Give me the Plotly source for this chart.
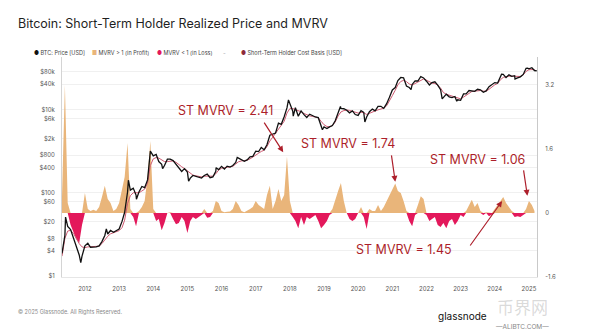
import pandas as pd
import plotly.graph_objects as go

# ---------------- data (monthly, first of month) ----------------
months = pd.date_range("2011-05-01", "2025-03-01", freq="MS")

btc_price = [
    3.5, 9.5, 15.5, 13, 8.2, 5.1, 3.2, 3.0,
    5.3, 6.1, 4.9, 4.9, 5.0, 5.3, 6.7, 9.4, 10.2, 12.4, 11.2, 12.5,
    13.5, 20.5, 34, 104, 116, 129, 88, 104, 141, 132, 203, 1000,
    770, 830, 560, 480, 450, 640, 640, 590, 480, 385, 325, 380,
    315, 225, 260, 245, 235, 225, 260, 280, 230, 240, 325, 360,
    430, 370, 435, 415, 450, 535, 675, 605, 570, 615, 730, 750,
    995, 970, 1220, 1080, 1420, 2400, 2500, 2720, 4700, 4400, 6700, 10900,
    13500, 9100, 11000, 6900, 9200, 7500, 6400, 7700, 7000, 6600, 6350, 4200,
    3800, 3480, 3820, 4100, 5350, 8550, 10600, 10400, 9600, 8300, 9200, 7550,
    7200, 9350, 8550, 6600, 8850, 10200, 9230, 11800, 11900, 10600, 13800, 19700,
    29400, 33500, 49600, 58700, 57800, 36700, 33600, 39900, 48800, 48200, 61300, 57200,
    47700, 38700, 44400, 46300, 38500, 29800, 19300, 23300, 20100, 19300, 20500, 17100,
    16600, 23700, 23600, 28500, 28100, 27200, 30600, 29700, 25900, 27900, 35400, 38700,
    44200, 43100, 62400, 69700, 58300, 67800, 62700, 64600, 57300, 60800, 69500, 97300,
    94400, 100600, 86000,
]

# intra-month highs / lows of the price line
price_extra_dates = ["2011-06-08", "2011-11-18", "2012-08-17", "2013-04-10", "2013-07-05",
                     "2013-11-30", "2014-04-11", "2015-01-14", "2015-11-04", "2016-06-17",
                     "2017-12-17", "2018-02-06", "2018-12-15", "2019-06-26", "2020-03-13",
                     "2021-04-14", "2021-07-20", "2021-11-10", "2022-06-18", "2022-11-21",
                     "2024-03-14", "2024-08-05", "2024-12-17", "2025-03-25"]
price_extra_values = [26, 2.1, 13.5, 200, 70, 950, 380, 190, 400, 700,
                      17000, 6900, 3250, 11800, 5000, 58000, 30000, 60000, 18000, 15800,
                      70000, 54000, 98000, 85000]

sth_cost_basis = [
    3, 8, 12, 12.5, 10.5, 8, 6, 5,
    4.8, 5, 5, 5, 5, 5.2, 6, 7.5, 9, 10.3, 10.8, 11.3,
    12.3, 14.5, 22, 55, 85, 100, 100, 100, 110, 122, 170, 450,
    650, 700, 680, 620, 560, 560, 580, 580, 540, 470, 420, 380,
    330, 285, 265, 255, 245, 240, 250, 255, 250, 250, 285, 350,
    385, 400, 410, 420, 430, 490, 555, 580, 590, 605, 650, 710,
    810, 890, 980, 1050, 1280, 1750, 2150, 2700, 3400, 4000, 5200, 8200,
    10500, 10500, 10000, 9300, 8800, 8000, 7400, 7000, 6800, 6600, 6300, 5200,
    4300, 3900, 3800, 4100, 5000, 7000, 8700, 9400, 9700, 9500, 9000, 8400,
    8200, 8600, 8300, 7600, 8000, 8700, 9200, 9800, 10300, 10700, 12300, 15800,
    21500, 29000, 39000, 47000, 50000, 46500, 41000, 38500, 42000, 46000, 51500, 54000,
    50500, 45500, 43000, 42000, 38500, 32500, 25500, 23200, 22000, 21000, 20000, 18500,
    18000, 19800, 22000, 25000, 27000, 27500, 28500, 28500, 27500, 27500, 30500, 35000,
    39000, 42000, 51500, 59000, 62000, 63000, 63000, 62000, 61000, 62000, 68000, 82000,
    90000, 92000, 91000,
]

sth_mvrv_minus_1 = [
    0.4, 3.2, 0.25, -0.3, -0.5, -0.65, -0.75, -0.3,
    0.5, 0.1, 0.05, 0.08, 0.05, 0.15, 0.4, 0.68, 0.35, 0.25, 0.05, 0.1,
    0.25, 0.6, 0.9, 1.75, 0.1, -0.1, -0.33, 0.05, 0.15, 0.3, 0.9, 1.8,
    0.1, -0.2, -0.15, -0.43, -0.25, 0.0, 0.02, -0.15, -0.28, -0.25, -0.1, -0.2,
    -0.5, -0.2, -0.1, -0.15, -0.1, -0.05, 0.1, -0.12, -0.1, 0.05, 0.3, 0.25,
    0.05, 0.02, 0.03, 0.04, 0.1, 0.3, 0.2, 0.05, 0.02, 0.05, 0.1, 0.15,
    0.3, 0.2, 0.15, 0.1, 0.45, 0.68, 0.1, 0.3, 0.6, 0.3, 0.45, 1.41,
    0.3, -0.1, -0.2, -0.38, -0.1, -0.3, -0.1, -0.15, -0.1, -0.05, -0.2, -0.38,
    -0.3, -0.2, -0.05, 0.1, 0.35, 0.55, 0.75, 0.3, 0.0, -0.15, -0.2, -0.15,
    0.0, 0.15, -0.1, -0.4, 0.1, 0.05, 0.05, 0.2, 0.05, 0.15, 0.3, 0.45,
    0.6, 0.74, 0.55, 0.5, 0.3, 0.05, -0.2, -0.33, -0.05, 0.2, 0.42, 0.35,
    -0.05, -0.2, -0.15, -0.1, -0.3, -0.35, -0.25, -0.38, -0.2, -0.15, -0.3, -0.2,
    -0.05, -0.1, 0.05, 0.2, 0.33, 0.15, 0.25, 0.05, -0.05, 0.02, -0.08, -0.05,
    0.1, 0.2, 0.3, 0.4, 0.25, 0.15, 0.05, -0.1, -0.08, -0.1, -0.05, 0.1,
    0.3, 0.2, 0.05,
]

year_ticks = [str(y) for y in range(2012, 2026)]
price_tickvals = [1, 4, 8, 20, 60, 100, 400, 800, 2000, 6000, 10000, 40000, 80000]
price_ticktext = ["$1", "$4", "$8", "$20", "$60", "$100", "$400", "$800",
                  "$2k", "$6k", "$10k", "$40k", "$80k"]
mvrv_tickvals = [-1.6, 0, 1.6, 3.2]
mvrv_ticktext = ["-1.6", "0", "1.6", "3.2"]

# ---------------- build ----------------
price_df = pd.concat([
    pd.DataFrame({"d": months, "v": btc_price}),
    pd.DataFrame({"d": pd.to_datetime(price_extra_dates), "v": price_extra_values}),
]).sort_values("d")

mvrv_pos = [v if v > 0 else 0 for v in sth_mvrv_minus_1]
mvrv_neg = [v if v < 0 else 0 for v in sth_mvrv_minus_1]

TAN = "#e9b57a"
CRIMSON = "#e3185b"
RED_TXT = "#ad1f2b"

fig = go.Figure()
fig.add_trace(go.Scatter(x=months, y=mvrv_pos, yaxis="y", mode="lines",
                         line=dict(width=0, color=TAN), fill="tozeroy",
                         fillcolor=TAN, name="MVRV > 1 (in Profit)"))
fig.add_trace(go.Scatter(x=months, y=mvrv_neg, yaxis="y", mode="lines",
                         line=dict(width=0, color=CRIMSON), fill="tozeroy",
                         fillcolor=CRIMSON, name="MVRV < 1 (in Loss)"))
fig.add_trace(go.Scatter(x=months, y=sth_cost_basis, yaxis="y2", mode="lines",
                         line=dict(width=1, color="#cf5b72"),
                         name="Short-Term Holder Cost Basis [USD]"))
fig.add_trace(go.Scatter(x=price_df["d"], y=price_df["v"], yaxis="y2", mode="lines",
                         line=dict(width=1.3, color="#111111"), name="BTC: Price [USD]"))

tickfont = dict(family="Inter, Open Sans, sans-serif", size=6, color="#555")

fig.update_layout(
    width=600, height=336,
    margin=dict(l=62, r=63, t=57, b=59),
    paper_bgcolor="white", plot_bgcolor="white",
    showlegend=False,
    title=dict(text="Bitcoin: Short-Term Holder Realized Price and MVRV",
               x=0.03, xanchor="left", y=1 - 24 / 336, yanchor="middle",
               font=dict(family="Inter, sans-serif", size=12.5, color="#1f1f1f")),
    xaxis=dict(type="date", range=["2011-05-01", "2025-03-28"],
               tickvals=[f"{y}-01-01" for y in year_ticks], ticktext=year_ticks,
               showgrid=False, zeroline=False, showline=True, linecolor="#e6e6e6",
               ticks="outside", ticklen=6, tickcolor="rgba(0,0,0,0)", tickfont=tickfont),
    yaxis=dict(side="right", range=[-1.6, 3.9], tickvals=mvrv_tickvals,
               ticktext=mvrv_ticktext, showgrid=False, zeroline=False,
               showline=True, linecolor="#c9c9c9", linewidth=1.2,
               ticks="outside", ticklen=6, tickcolor="rgba(0,0,0,0)", tickfont=tickfont),
    yaxis2=dict(type="log", overlaying="y", side="left", range=[-0.024, 5.26],
                tickvals=price_tickvals, ticktext=price_ticktext,
                showgrid=True, gridcolor="#f0f0f0", gridwidth=1, zeroline=False,
                showline=True, linecolor="#d4d4d4",
                ticks="outside", ticklen=5, tickcolor="rgba(0,0,0,0)", tickfont=tickfont),
)

# -------- annotations (call-outs) --------
def px_x(px):
    return (px - 62) / 475.0

def px_y(py):
    return (277 - py) / 220.0

callouts = [
    ("ST MVRV = 2.41", 225, 110),
    ("ST MVRV = 1.74", 348, 143),
    ("ST MVRV = 1.06", 477, 159),
    ("ST MVRV = 1.45", 404, 249),
]
for txt, cx, cy in callouts:
    fig.add_annotation(text=txt, xref="paper", yref="paper", x=px_x(cx), y=px_y(cy),
                       showarrow=False, xanchor="center", yanchor="middle",
                       font=dict(family="Inter, sans-serif", size=12.5, color=RED_TXT))

arrows = [  # head date, head value (right axis), tail offset px
    ("2017-10-22", 1.52, -20, -31),
    ("2021-02-01", 0.78, -4, -28),
    ("2024-12-15", 0.43, -4, -27),
    ("2024-03-20", 0.30, -33, 46),
]
for hx, hy, ax, ay in arrows:
    fig.add_annotation(x=hx, y=hy, xref="x", yref="y", text="", showarrow=True,
                       ax=ax, ay=ay, arrowhead=2, arrowsize=1, arrowwidth=1.2,
                       arrowcolor=RED_TXT)

# -------- legend row --------
leg_font = dict(family="Inter, sans-serif", size=5.5, color="#444")
legend_items = [
    (32, "#111111", "●", "BTC: Price [USD]"),
    (90, TAN, "■", "MVRV > 1 (in Profit)"),
    (155, CRIMSON, "●", "MVRV < 1 (in Loss)"),
    (239, "#8e2a3a", "●", "Short-Term Holder Cost Basis [USD]"),
]
for lx, col, sym, txt in legend_items:
    fig.add_annotation(text=f"<span style='color:{col}'>{sym}</span> {txt}",
                       xref="paper", yref="paper", x=px_x(lx), y=px_y(52),
                       xanchor="left", yanchor="middle", showarrow=False, font=leg_font)
fig.add_annotation(text="-", xref="paper", yref="paper", x=px_x(221), y=px_y(52),
                   xanchor="left", yanchor="middle", showarrow=False,
                   font=dict(family="Inter, sans-serif", size=6, color="#aaa"))

# -------- footer --------
fig.add_annotation(text="© 2025 Glassnode. All Rights Reserved.", xref="paper", yref="paper",
                   x=px_x(16), y=px_y(311), xanchor="left", yanchor="middle",
                   showarrow=False, font=dict(family="Inter, sans-serif", size=5.5, color="#8a8a8a"))
fig.add_annotation(text="币界网", xref="paper", yref="paper", x=px_x(522), y=px_y(306),
                   xanchor="center", yanchor="middle", showarrow=False,
                   font=dict(family="Noto Sans CJK SC", size=17, color="rgba(150,150,150,0.35)"))
fig.add_annotation(text="glassnode", xref="paper", yref="paper", x=px_x(462), y=px_y(316),
                   xanchor="center", yanchor="middle", showarrow=False,
                   font=dict(family="Inter, sans-serif", size=10, color="#111"))
fig.add_annotation(text="—ALIBTC.COM—", xref="paper", yref="paper", x=px_x(522), y=px_y(327),
                   xanchor="center", yanchor="middle", showarrow=False,
                   font=dict(family="Inter, sans-serif", size=6.5, color="#888"))

fig.write_html("out.html")
